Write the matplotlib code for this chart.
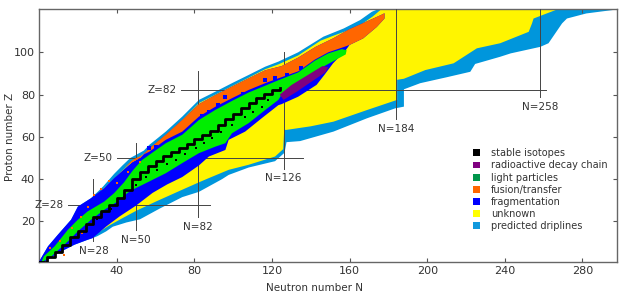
import matplotlib
matplotlib.use('Agg')
import matplotlib.pyplot as plt
from matplotlib.patches import Patch

plt.rcParams['font.family'] = ['DejaVu Sans']

# ---- data (N = neutrons, Z = protons) ----
# outer outline of the predicted drip-line region (light blue)
drip_n = [0, 4.6, 9.7, 16.5, 20, 26.8, 33, 38.7, 43, 47, 50, 54, 56.8, 65.3, 73.8, 82.4, 90.9,
          99.4, 108, 116.5, 123.3, 133.5, 146.5, 157, 165.5, 171.5, 175, 298,
          298, 282, 272, 269.5, 262.5, 258.3, 243, 237.6, 224.7, 222.2, 210, 196.4, 188, 188,
          183.5, 169, 151.7, 134.5, 127.5, 126.5, 121.6, 108, 97.7, 94.3, 82.4, 73.8, 62, 57,
          52, 45, 38, 34.6, 30, 27.6, 25, 18.3, 9.7, 1]
drip_z = [1, 8.2, 13.7, 20.8, 27, 31, 36.5, 42.5, 46.5, 50, 51.5, 53.5, 56.2, 62.5, 69.6, 77.5, 81.4,
          85.4, 89.3, 93.2, 95.6, 100, 107.4, 111.3, 115.3, 119.2, 120.5, 120.5,
          120.3, 118.4, 116, 113.7, 104.3, 102.6, 99.5, 97.9, 94.5, 90.8, 88.2, 85.4, 82.5, 74.3,
          73.5, 68.8, 62.5, 58, 57.5, 52.5, 48.5, 45.5, 42, 40, 34, 31.5, 26, 23.5,
          21, 19.5, 17.5, 15.3, 13, 12.1, 11.3, 9, 5, 0]

# unknown nuclei inside the drip lines (yellow)
unk_n = [30, 35, 40, 44, 48, 52, 57, 65.3, 73.8, 82.4, 90.9, 99.4, 108, 116.5, 123.3, 133.5,
         145, 151.5, 158, 166.5, 172, 176.5, 267,
         267, 254.8, 254, 252.3, 237.6, 225.6, 213.6, 199, 188, 184.5, 184.5, 169, 151.7, 140,
         127.5, 126.3, 125.8, 121.6, 108, 97.7, 87.5, 82.4, 73.8, 60.2, 50, 43.1, 36, 31]
unk_z = [33, 37, 41.5, 45, 48.5, 50.5, 54.5, 61, 68, 76, 80, 84, 88, 92, 94.3, 98.5,
         105.5, 107.8, 110, 113.5, 117, 120.5, 120.5,
         120.3, 116, 113.7, 109.7, 104.3, 101.9, 94.8, 91.6, 87.5, 87, 77.5, 72.7, 67.2, 65,
         63.3, 63.3, 54.2, 50.7, 46.8, 44.4, 40.5, 38.5, 35, 29.4, 25, 21.6, 18, 15]

# all known nuclei (fragmentation colour underneath)
known_n = [0, 4.6, 9.7, 16.5, 20, 26.8, 33.6, 38.7, 43, 48, 52, 56.8, 65.3, 73.8, 82.4, 90.9,
           99.4, 108, 116.5, 125, 133.5, 142.5, 151.5, 160, 170.5, 176.5, 178, 178, 174, 167,
           160, 158, 151.5, 147, 143, 133.5, 125, 123.3, 114.7, 106.2, 97.7, 96, 87.5, 82.4,
           73.8, 66, 58.5, 50, 41.4, 34.6, 27.6, 25, 18.3, 9.7, 1]
known_z = [1, 8.2, 13.7, 20.8, 27, 31, 35.8, 40.5, 44, 48, 50, 54.5, 61, 68, 75.5, 79.8,
           83.8, 87.7, 91.5, 93.5, 97.5, 102.6, 106.6, 111, 115.3, 117.8, 118.5, 116, 112, 106.6,
           103.5, 101, 94.8, 89.3, 84.6, 79, 75.5, 75, 68.8, 62.5, 58.6, 53.8, 50.7, 46.5,
           41, 37.5, 33.5, 27.5, 22.3, 17.6, 12.1, 11.3, 9, 5, 0]

# fusion / transfer products (orange)
fus_n = [44, 48, 52, 56.8, 65.3, 73.8, 82.4, 90.9, 99.4, 108, 116.5, 125, 133.5, 142.5, 151.5,
         160, 170.5, 176.5, 178, 178, 174, 167, 160, 157,
         149, 142, 133.5, 123.3, 116.5, 108, 99.4, 90.9, 82.4, 73.8, 65.3, 56.8, 48.2]
fus_z = [45.5, 48, 50, 54.5, 61, 68, 75.5, 79.8, 83.8, 87.7, 91.5, 93.5, 97.5, 102.6, 106.6,
         111, 115.3, 117.8, 118.5, 116, 112, 106.6, 103.5, 102.5,
         100, 96.5, 91, 87.7, 85.4, 82.2, 78.3, 74.3, 69.6, 62.5, 58.6, 53, 49.1]

# light particle reactions (green)
lp_n = [2.5, 8, 14.8, 20, 25, 33.6, 38.7, 43.8, 48.2, 53, 56.8, 65.3, 73.8, 82.4, 90.9, 99.4,
        108, 116.5, 123.3, 133.5, 142, 149, 156, 158.5,
        158, 150, 142, 133.5, 125, 123.3, 116.5, 108, 99.4, 96, 90.9, 82.4, 73.8, 65.3, 57,
        48.2, 45.5, 40.4, 33.6, 26.8, 20, 14.8, 6.3, 1]
lp_z = [3.5, 8.2, 16, 20.8, 24.7, 29.4, 33.4, 38.5, 44, 49, 51.5, 57, 61, 68, 72.8, 77,
        81, 84.2, 86.8, 90.5, 96, 99.5, 101.5, 101,
        99, 95, 91, 85.5, 80, 77.5, 72.7, 66.5, 61.7, 57, 55.4, 52.3, 47.6, 42.8, 39,
        35, 33.4, 29.4, 25.5, 20.8, 15.3, 10.5, 3.4, 0.5]

# radioactive decay chain (purple)
dec_n = [124, 130, 138, 146, 149, 147.5, 141, 133, 126]
dec_z = [80, 84.5, 89, 93.5, 93, 90.5, 86.5, 81.5, 77.5]

# valley of stability (black staircase)
stab_n = [0, 4, 8, 12, 16, 20, 24, 28, 32, 36, 40, 44, 48, 52, 56, 60, 64, 68, 72, 76, 80,
          84, 88, 92, 96, 100, 104, 108, 112, 116, 120, 124]
stab_z = [1, 3, 5.5, 9, 12.5, 15.5, 19, 22, 25, 28, 31, 35, 40, 43.5, 46, 48.5, 51, 53, 54.5,
          56.5, 59, 61, 63, 65.5, 68.5, 71, 73.5, 76, 78.5, 80.5, 82, 83]

# isolated long-lived nuclei seen as black dots next to the staircase
dot_n = [30, 37, 44, 50, 55, 61, 66, 70.4, 75, 80.7, 85, 89.2, 94, 99.4, 106.2, 110, 114.7, 118]
dot_z = [21, 26, 31.5, 37, 41.2, 44.4, 47, 49.1, 52, 54.6, 57, 59.4, 62.5, 65.7, 69.6, 72,
         74.3, 77.5]

# fragmentation cells scattered in the fusion band
fr_n = [56.8, 60, 67, 70, 76.4, 84, 87.5, 92, 96, 102.8, 105, 111.3, 116.5, 121.6, 128, 135]
fr_z = [54.6, 55, 57, 58.5, 59.4, 70, 71.9, 75, 79, 77.5, 80.5, 80.6, 86.9, 87.7, 89.5, 92.5]

# fusion cells scattered on the light side of the low-Z region
fo_n = [5.5, 10.6, 12.8, 17, 21.6, 25, 28.5, 32, 36.2, 40.4, 22, 27, 46, 52]
fo_z = [7.6, 10.5, 4.3, 17, 22.3, 27, 32.6, 35.5, 38.9, 38.1, 14.5, 19, 43.5, 48]

# magic numbers with the extent of their guide lines
magic_z = [28, 50, 82]
magic_z_from = [15, 40, 73]
magic_z_to = [88, 136, 261]
magic_n = [28, 50, 82, 126, 184, 258]
magic_n_from = [10.5, 16, 22, 45, 68.5, 79]
magic_n_to = [40, 57, 91, 100, 120.5, 120.5]

legend_labels = ['stable isotopes', 'radioactive decay chain', 'light particles',
                 'fusion/transfer', 'fragmentation', 'unknown', 'predicted driplines']
legend_colors = ['#000000', '#800080', '#00964b', '#ff6600', '#0000ff', '#ffff00', '#1199dd']

c_drip = '#0096dc'
c_unk = '#fff500'
c_frag = '#0000ff'
c_fus = '#ff6600'
c_lp = '#00ee00'
c_dec = '#800080'
txt = '#333333'

fig = plt.figure(figsize=(6.3, 3.0), dpi=100)
ax = fig.add_axes([0.062, 0.126, 0.918, 0.844])

ax.fill(drip_n, drip_z, color=c_drip, lw=0, zorder=1)
ax.fill(unk_n, unk_z, color=c_unk, lw=0, zorder=2)

line_col = '#444444'
for z, a, b in zip(magic_z, magic_z_from, magic_z_to):
    ax.plot([a, b], [z, z], color=line_col, lw=0.7, zorder=3)
    ax.annotate('Z=%d' % z, xy=(a, z), xytext=(-3, 0), textcoords='offset points',
                ha='right', va='center', fontsize=7.5, color=txt)
for n, a, b in zip(magic_n, magic_n_from, magic_n_to):
    ax.plot([n, n], [a, b], color=line_col, lw=0.7, zorder=3)
    ax.annotate('N=%d' % n, xy=(n, a), xytext=(0, -3.5), textcoords='offset points',
                ha='center', va='top', fontsize=7.5, color=txt)

ax.fill(known_n, known_z, color=c_frag, lw=0, zorder=4)
ax.fill(fus_n, fus_z, color=c_fus, lw=0, zorder=5)
ax.scatter(fr_n, fr_z, marker='s', s=5, color=c_frag, lw=0, zorder=5.5)
ax.fill(lp_n, lp_z, color=c_lp, lw=0, zorder=6)
ax.scatter(fo_n, fo_z, marker='s', s=4, color=c_fus, lw=0, zorder=6.5)
ax.fill(dec_n, dec_z, color=c_dec, lw=0, zorder=7)
ax.step(stab_n, stab_z, where='post', color='black', lw=2.0, zorder=8)
ax.scatter(dot_n, dot_z, marker='s', s=3.5, color='black', lw=0, zorder=8)

ax.set_xlim(0, 298)
ax.set_ylim(0.7, 120.5)
ax.set_xticks([40, 80, 120, 160, 200, 240, 280])
ax.set_yticks([20, 40, 60, 80, 100])
ax.tick_params(direction='in', top=True, right=True, length=3, width=0.8, colors='#555555',
               labelsize=8, labelcolor=txt, pad=3)
for s in ax.spines.values():
    s.set_color('#666666')
    s.set_linewidth(1.0)

fig.text(0.016, 0.545, 'Proton number Z', rotation=90, ha='center', va='center',
         fontsize=7.5, color=txt)
fig.text(0.5, 0.04, 'Neutron number N', ha='center', va='center', fontsize=7.5, color=txt)

handles = [Patch(facecolor=c, edgecolor='none') for c in legend_colors]
ax.legend(handles, legend_labels, loc='upper left', bbox_to_anchor=(0.75, 0.45),
          frameon=False, fontsize=7, handlelength=0.7, handleheight=0.7, handletextpad=1.2,
          labelspacing=0.22, borderpad=0, borderaxespad=0, labelcolor=txt)

fig.savefig('out.png', dpi=100)
